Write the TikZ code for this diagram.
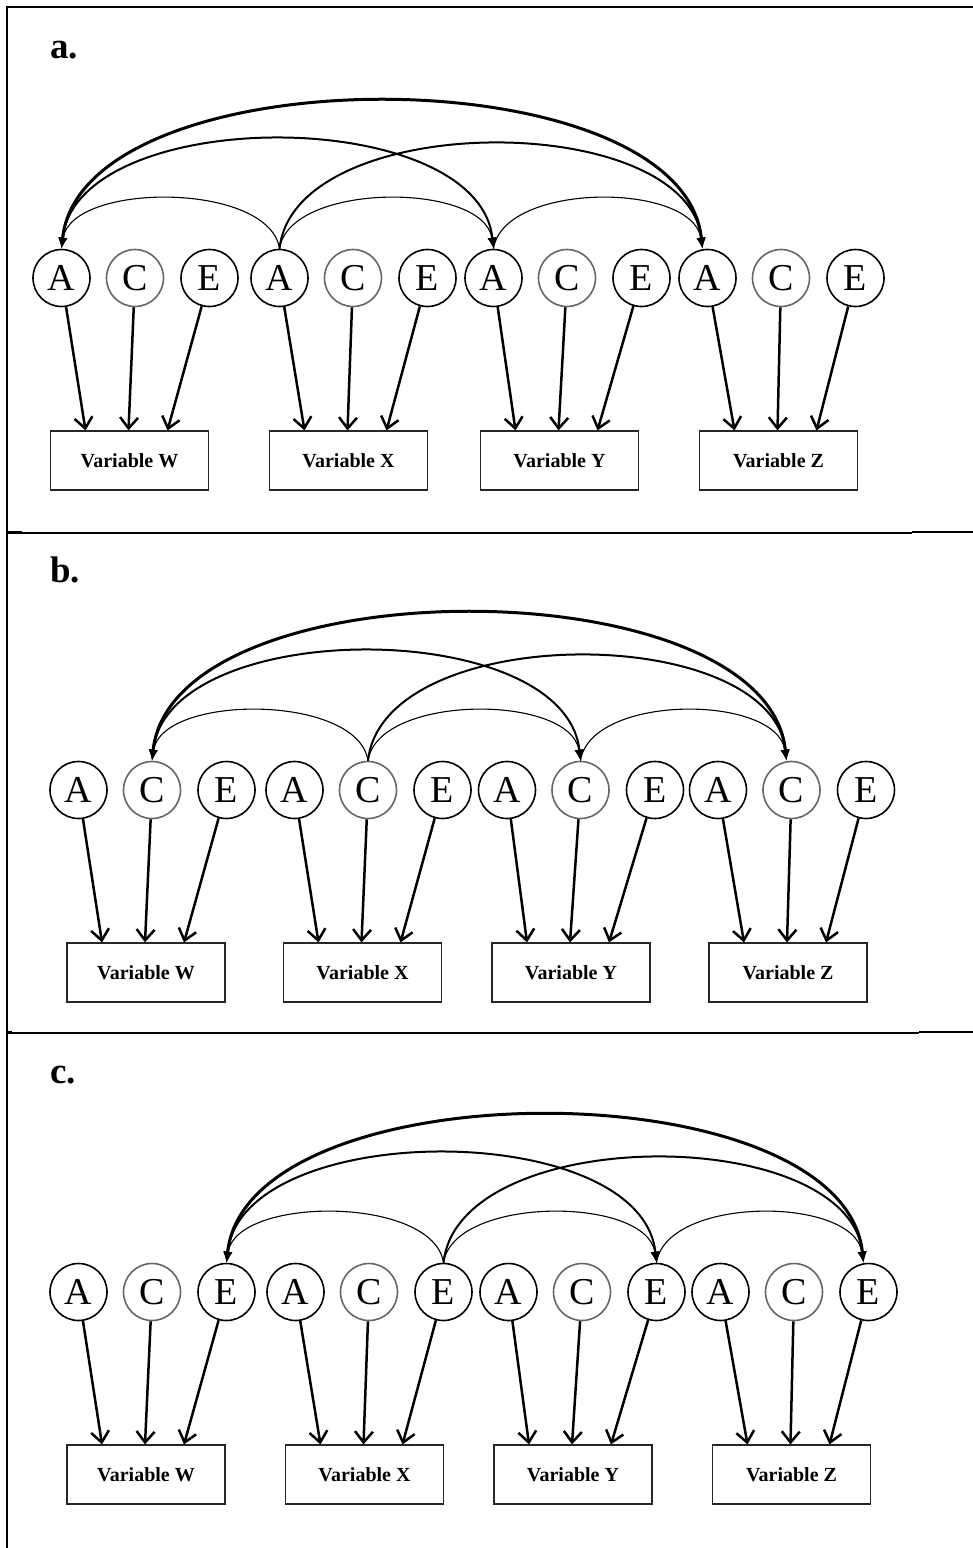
\documentclass[tikz,border=0pt]{standalone}
\usepackage{fontspec}
\setmainfont{Liberation Serif}
\usetikzlibrary{arrows.meta}

\tikzset{
  lat/.style={circle,draw,line width=1.6pt,minimum size=57pt,inner sep=0pt,
    font=\fontsize{38}{38}\selectfont},
  latc/.style={lat,draw=black!60},
  obs/.style={draw=black!85,line width=1.2pt,minimum width=158pt,minimum height=59pt,
    inner sep=0pt,font=\fontsize{20}{20}\selectfont\bfseries},
  load/.style={line width=2.5pt,-{Straight Barb[length=11pt,width=18pt]}},
  cov1/.style={line width=1.1pt},
  cov2/.style={line width=2pt},
  cov3/.style={line width=3pt},
  lbl/.style={anchor=base west,inner sep=0pt,font=\fontsize{37}{37}\selectfont\bfseries},
}

% one panel: name, row y, A x / box x / variable, factor that is linked
\newcommand{\acerow}[4]{%
  \foreach \ax/\bx/\v [count=\g] in {#3} {
    \node[lat]  (#1A\g) at (\ax,#2) {A};
    \node[latc] (#1C\g) at (\ax+73.5,#2) {C};
    \node[lat]  (#1E\g) at (\ax+148,#2) {E};
    \node[obs]  (#1V\g) at (\bx,#2+182.5) {Variable \v};
    \draw[load] (#1A\g) -- ([xshift=-44pt]#1V\g.north);
    \draw[load] (#1C\g) -- ([xshift=-1pt]#1V\g.north);
    \draw[load] (#1E\g) -- ([xshift=38pt]#1V\g.north);
  }
  \draw[cov1,->] (#1#42.north) .. controls +(-10,-67) and +(10,-67) .. (#1#41.north);
  \draw[cov1,->] (#1#42.north) .. controls +(10,-67) and +(-10,-67) .. (#1#43.north);
  \draw[cov1,->] (#1#43.north) .. controls +(10,-67) and +(-10,-67) .. ([xshift=-5pt]#1#44.north);
  \draw[cov2,<->] (#1#41.north) .. controls +(15,-145) and +(-15,-145) .. (#1#43.north);
  \draw[cov2,->] (#1#42.north) .. controls +(15,-140) and +(-15,-140) .. ([xshift=-5pt]#1#44.north);
  \draw[cov3,<->] (#1#41.north) .. controls +(20,-196) and +(-20,-196) .. ([xshift=-5pt]#1#44.north);
}

\begin{document}
\begin{tikzpicture}[x=1pt,y=-1pt,>={Latex[length=11pt,width=9pt]}]
  \useasboundingbox (0,0) rectangle (973,1548);

  % frame and dividers
  \draw[line width=2.5pt] (7,1548) -- (7,7) -- (973,7);
  \draw[line width=1.5pt] (7,533) -- (912,533);
  \draw[line width=2.5pt] (7,532) -- (22,532) (912,532) -- (973,532);
  \draw[line width=1.5pt] (7,1033) -- (919,1033);
  \draw[line width=2.5pt] (7,1032) -- (12,1032) (919,1032) -- (973,1032);

  \node[lbl] (la) at (50,58) {a.};
  \node[lbl] (lb) at (50,582) {b.};
  \node[lbl] (lc) at (50,1083) {c.};

  \acerow{a}{278}{61.5/129.5/W, 279.5/348.5/X, 493.5/559.5/Y, 707.5/778.5/Z}{A}
  \acerow{b}{790}{78.5/146/W, 294.5/362.5/X, 507/571/Y, 718/788/Z}{C}
  \acerow{c}{1292}{78.5/146/W, 295.5/364.5/X, 508.5/573/Y, 720.5/791.5/Z}{E}
\end{tikzpicture}
\end{document}
